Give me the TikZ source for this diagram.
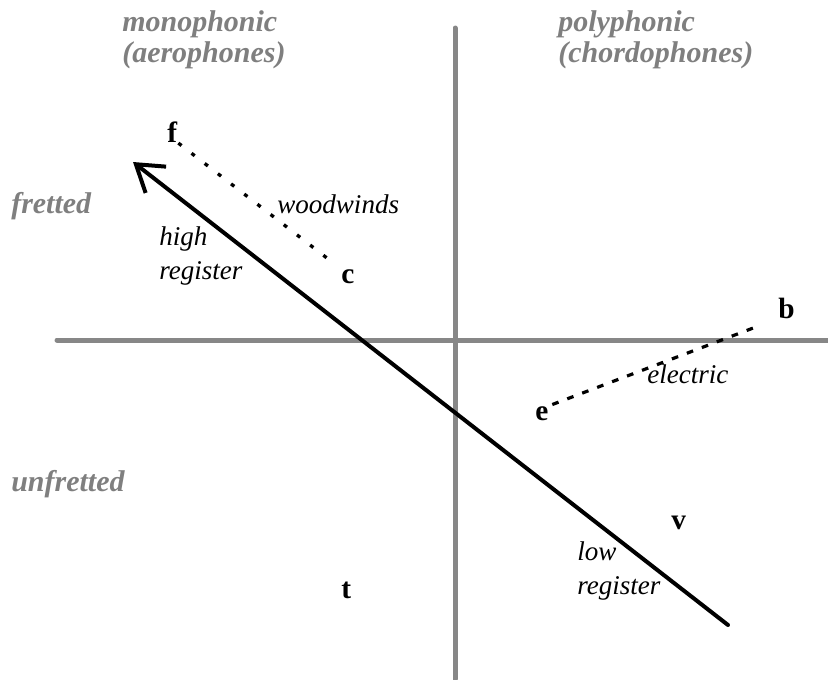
\documentclass[tikz,border=0pt]{standalone}
\usepackage{fontspec}
\setmainfont{Liberation Serif}
\usepackage{tikz}
\usetikzlibrary{arrows.meta,positioning}
\definecolor{AxisGray}{HTML}{878787}
\definecolor{LabelGray}{HTML}{7F7F7F}

\begin{document}
\begin{tikzpicture}[x=0.75pt, y=-0.75pt, >=Latex]
\tikzset{axis/.style={draw=AxisGray, line width=3.75pt, line cap=round}, letter/.style={font=\fontsize{22}{26}\selectfont\bfseries, inner sep=0pt, anchor=base west}, note/.style={font=\fontsize{20.3}{26}\selectfont\itshape, inner sep=0pt, align=left}, head/.style={note, font=\fontsize{22.5}{23.5}\selectfont\bfseries\itshape, text=LabelGray}, dotline/.style={line width=2.5pt, dash pattern=on 3pt off 9.5pt}, dashline/.style={line width=2.4pt, dash pattern=on 5pt off 7pt}, regarrow/.style={line width=3pt, line cap=round, -{Straight Barb[length=19pt,width=25pt]}}}
\useasboundingbox (0,0) rectangle (828,679);
% axes
\coordinate (vtop) at (455,28);
\coordinate (vbot) at (455,679);
\coordinate (hleft) at (57,340);
\coordinate (hright) at (828,340);
\draw[axis] (vtop) -- (vbot);
\draw[axis] (hleft) -- (hright);
% quadrant headings
\node[head, anchor=west] (mono) at (122,40) {monophonic\\(aerophones)};
\node[head, anchor=west] (poly) at (558,40) {polyphonic\\(chordophones)};
\node[head, anchor=base west] (fret) at (11,213) {fretted};
\node[head, anchor=base west] (unfret) at (11,491) {unfretted};
% instruments
\foreach \n/\x/\y in {f/167/142, c/341/283, b/778/318, e/535/420, v/671/529, t/341/598}
  \node[letter] (\n) at (\x,\y) {\n};
\node[note, anchor=base west] (wood) at (277,213) {woodwinds};
\node[note, anchor=base west] (elec) at (647,383) {electric};
\node[note, anchor=west] (high) at (159,256) {high\\register};
\node[note, anchor=west] (low) at (577,571) {low\\register};
% links
\draw[dotline, shorten <=1pt, shorten >=9pt] (f.south east) -- (c.north west);
\draw[dashline, shorten <=3pt, shorten >=18pt] (e.north east) -- (b.south west);
\coordinate (lo) at (728,625);
\coordinate (hi) at (133,162);
\draw[regarrow] (lo) -- (hi);
\end{tikzpicture}
\end{document}
